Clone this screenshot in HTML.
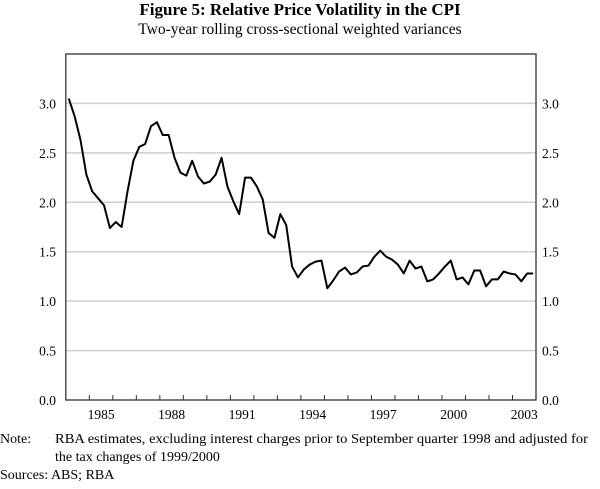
<!DOCTYPE html>
<html><head><meta charset="utf-8"><style>
body{margin:0;background:#fff;width:600px;height:484px;overflow:hidden;font-family:"Liberation Serif",serif;}
</style></head><body>
<svg width="600" height="484" xmlns="http://www.w3.org/2000/svg" font-family="Liberation Serif, serif">
<text x="300" y="15" text-anchor="middle" font-size="17" font-weight="bold">Figure 5: Relative Price Volatility in the CPI</text>
<text x="300" y="34" text-anchor="middle" font-size="15.5">Two-year rolling cross-sectional weighted variances</text>
<g id="grid"></g>
<g id="axes"></g>
<path id="line" fill="none" stroke="#000" stroke-width="2" stroke-linejoin="round"/>
<g font-size="14">
<text x="0" y="443">Note:</text>
<text x="55" y="443" textLength="533" lengthAdjust="spacingAndGlyphs">RBA estimates, excluding interest charges prior to September quarter 1998 and adjusted for</text>
<text x="55" y="461">the tax changes of 1999/2000</text>
<text x="0" y="479">Sources: ABS; RBA</text>
</g>
</svg>
<script>
const startYear = 1984.125;
const values = [3.05,2.87,2.63,2.28,2.11,2.04,1.97,1.74,1.80,1.75,2.11,2.42,2.56,2.59,2.77,2.81,2.68,2.68,2.45,2.30,2.27,2.42,2.26,2.19,2.21,2.28,2.45,2.16,2.01,1.88,2.25,2.25,2.16,2.03,1.69,1.64,1.88,1.77,
1.35,1.24,1.32,1.37,1.40,1.41,1.13,1.21,1.30,1.34,1.27,1.29,1.35,1.36,1.45,1.51,1.45,1.42,1.37,1.28,1.41,1.33,1.35,1.20,1.22,1.28,1.35,1.41,1.22,1.24,1.17,1.31,1.31,1.15,1.22,1.22,1.30,1.28,1.27,1.20,1.28,1.28];
const yTicks = [0,0.5,1,1.5,2,2.5,3];
const yLabels = ["0.0","0.5","1.0","1.5","2.0","2.5","3.0"];
const xLabels = [1985,1988,1991,1994,1997,2000,2003];
const X0=65.8,X1=536,Y0=400,Y1=54,xmin=1984,xmax=2004,ymin=0,ymax=3.5;
const xs=t=>X0+(t-xmin)/(xmax-xmin)*(X1-X0);
const ys=v=>Y0-(v-ymin)/(ymax-ymin)*(Y0-Y1);
const NS="http://www.w3.org/2000/svg";
function mk(tag,attrs,parent,text){const e=document.createElementNS(NS,tag);for(const k in attrs)e.setAttribute(k,attrs[k]);if(text!=null)e.textContent=text;parent.appendChild(e);return e;}
const grid=document.getElementById('grid'),axes=document.getElementById('axes');
yTicks.forEach((v,i)=>{
  if(v>0){const g=mk('line',{x1:X0,x2:X1,y1:ys(v),y2:ys(v),stroke:'#cfcfcf','stroke-width':1.5},grid);
  
  }
  const l=mk('text',{x:56,y:ys(v)+5,'text-anchor':'end','font-size':13.5},axes,yLabels[i]);
  
  
  const r=mk('text',{x:542,y:ys(v)+5,'font-size':13.5},axes,yLabels[i]);
  
  
});
const frame=mk('rect',{x:X0,y:Y1,width:X1-X0,height:Y0-Y1,fill:'none',stroke:'#333','stroke-width':1.3},axes);


for(let y=xmin+1;y<xmax;y++){
  const t=mk('line',{x1:xs(y),x2:xs(y),y1:Y0,y2:Y0-5,stroke:'#333','stroke-width':1},axes);
  
  
}
xLabels.forEach(y=>{
  const t=mk('text',{x:xs(y+0.5),y:419,'text-anchor':'middle','font-size':13.5},axes,String(y));
  
  
});
document.getElementById('line').setAttribute('d',values.map((v,i)=>(i?'L':'M')+xs(startYear+i*0.25).toFixed(2)+','+ys(v).toFixed(2)).join(''));
</script>
</body></html>
